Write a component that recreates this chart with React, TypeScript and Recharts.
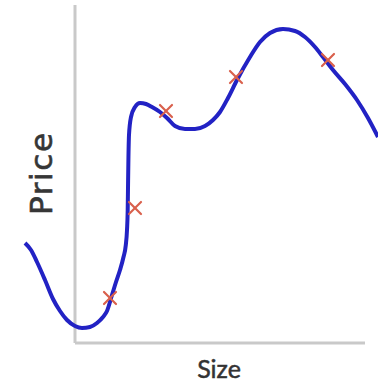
import React from 'react';
import { ComposedChart, Line, Scatter, XAxis, YAxis, ReferenceLine, Label } from 'recharts';

// size / price in plot units, origin at the axes corner
const curveSize = [-50, -44, -38, -30, -22, -15, -8, 0, 7, 15, 22, 28, 32, 37, 41, 45, 48.5, 50.8, 52, 52.7, 53, 53.4, 54, 56, 60, 65, 71, 77, 85, 92, 100, 110, 120, 130, 138, 145, 153, 162, 175, 185, 195, 208, 220, 230, 240, 248, 258, 270, 282, 293, 303];
const curvePrice = [100, 93, 81, 63, 44, 32, 23, 17, 15, 16, 20, 26, 32, 48, 61, 73, 86, 98, 113, 133, 155, 183, 208, 226, 236, 240, 239, 236, 231, 225, 217, 214, 214, 217, 223, 231, 245, 263, 286, 301, 310, 314, 312, 306, 296, 286, 273, 259, 243, 225, 206];

const sampleSize = [35, 60, 91, 161, 253];
const samplePrice = [45, 135, 232, 266, 283];

const curve = curveSize.map((size, i) => ({ size, price: curvePrice[i] }));
const samples = sampleSize.map((size, i) => ({ size, price: samplePrice[i] }));

const axisColor = '#c9c9c9';
const curveColor = '#2222c4';
const markColor = '#d9604c';

const Cross = (props: any) => {
  const { cx, cy } = props;
  const r = 6;
  return (
    <g stroke={markColor} strokeWidth={2.2} strokeLinecap="round">
      <line x1={cx - r} y1={cy - r} x2={cx + r} y2={cy + r} />
      <line x1={cx + r} y1={cy - r} x2={cx - r} y2={cy + r} />
    </g>
  );
};

const PriceLabel = (props: any) => {
  const { x, y, height } = props.viewBox;
  const cx = x - 23;
  const cy = y + height / 2;
  return (
    <text
      x={cx}
      y={cy}
      transform={`rotate(-90 ${cx} ${cy})`}
      textAnchor="middle"
      textLength={82}
      lengthAdjust="spacing"
      fontFamily="DejaVu Sans, sans-serif"
      fontSize={31}
      fill="#363636"
      stroke="#363636"
      strokeWidth={0.6}
    >
      Price
    </text>
  );
};

const SizeLabel = (props: any) => {
  const { x, y, width } = props.viewBox;
  return (
    <text
      x={x + width / 2 - 1}
      y={y + 35}
      textAnchor="middle"
      fontFamily="Liberation Sans Narrow, Lato, sans-serif"
      fontSize={25}
      fill="#333"
      stroke="#333"
      strokeWidth={0.5}
    >
      Size
    </text>
  );
};

export default function App() {
  return (
    <div style={{ position: 'fixed', left: 0, top: 0, width: 378, height: 392, background: '#fff' }}>
      <ComposedChart width={378} height={392} margin={{ top: 0, right: 0, bottom: 0, left: 0 }}>
        <XAxis type="number" dataKey="size" domain={[-75, 303]} hide allowDataOverflow />
        <YAxis type="number" dataKey="price" domain={[-49, 343]} hide allowDataOverflow />
        <ReferenceLine
          segment={[{ x: 0, y: 0 }, { x: 0, y: 338 }]}
          stroke={axisColor}
          strokeWidth={3}
          label={<Label content={PriceLabel} />}
        />
        <ReferenceLine
          segment={[{ x: 0, y: 0 }, { x: 290, y: 0 }]}
          stroke={axisColor}
          strokeWidth={3}
          label={<Label content={SizeLabel} />}
        />
        <Scatter data={samples} dataKey="price" shape={<Cross />} isAnimationActive={false} />
        <Line
          data={curve}
          dataKey="price"
          type="monotone"
          stroke={curveColor}
          strokeWidth={4}
          dot={false}
          activeDot={false}
          isAnimationActive={false}
        />
      </ComposedChart>
    </div>
  );
}
